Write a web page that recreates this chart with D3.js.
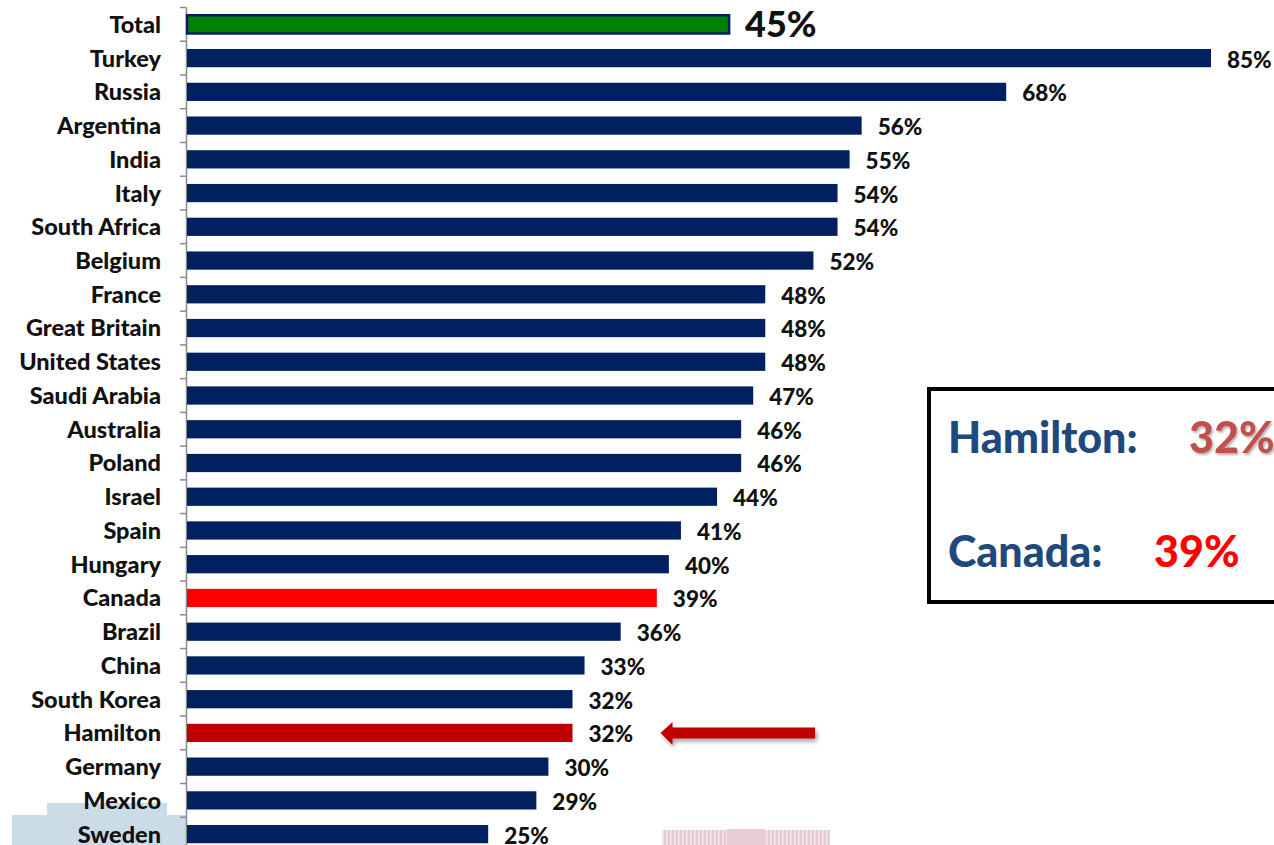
<!DOCTYPE html>
<html>
<head>
<meta charset="utf-8">
<script src="https://cdn.jsdelivr.net/npm/d3@7"></script>
<style>
  html, body { margin: 0; padding: 0; background: #fff; }
  svg { display: block; font-family: Lato, "Open Sans", sans-serif; }
</style>
</head>
<body>
<svg id="chart" width="1274" height="845"></svg>
<script>
// Share of respondents, by country (percent)
const categories = [
  "Total", "Turkey", "Russia", "Argentina", "India", "Italy", "South Africa",
  "Belgium", "France", "Great Britain", "United States", "Saudi Arabia",
  "Australia", "Poland", "Israel", "Spain", "Hungary", "Canada", "Brazil",
  "China", "South Korea", "Hamilton", "Germany", "Mexico", "Sweden"
];
const values = [
  45, 85, 68, 56, 55, 54, 54,
  52, 48, 48, 48, 47,
  46, 46, 44, 41, 40, 39, 36,
  33, 32, 32, 30, 29, 25
];
const valueLabels = values.map(v => v + "%");

// Call-out box entries
const calloutNames = ["Hamilton:", "Canada:"];
const calloutValues = ["32%", "39%"];

const data = categories.map((c, i) => ({ name: c, value: values[i], label: valueLabels[i] }));

const svg = d3.select("#chart");
const W = 1274, H = 845;

const defs = svg.append("defs");
const shadow = defs.append("filter").attr("id", "shadow")
  .attr("x", "-20%").attr("y", "-50%").attr("width", "140%").attr("height", "220%");
shadow.append("feDropShadow").attr("dx", 2).attr("dy", 3).attr("stdDeviation", 2)
  .attr("flood-color", "#000").attr("flood-opacity", 0.35);
const textShadow = defs.append("filter").attr("id", "textShadow")
  .attr("x", "-10%").attr("y", "-10%").attr("width", "130%").attr("height", "140%");
textShadow.append("feDropShadow").attr("dx", 1.5).attr("dy", 2).attr("stdDeviation", 1.2)
  .attr("flood-color", "#000").attr("flood-opacity", 0.3);

// Faint stripes for the pale backdrop strip at the bottom
const stripes = defs.append("pattern").attr("id", "stripes")
  .attr("width", 4).attr("height", 10).attr("patternUnits", "userSpaceOnUse");
stripes.append("rect").attr("width", 4).attr("height", 10).attr("fill", "#f1e1e7");
stripes.append("rect").attr("width", 1.5).attr("height", 10).attr("fill", "#e2c5d0");

// Pale backdrop shapes along the bottom edge
const backdrop = svg.append("g");
backdrop.append("path")
  .attr("d", "M12,815 L47,815 L47,803 L167,803 L167,815 L186,815 L186,845 L12,845 Z")
  .attr("fill", "#ccdce7");
backdrop.append("rect").attr("x", 662).attr("y", 830).attr("width", 168).attr("height", 15)
  .attr("fill", "url(#stripes)");
backdrop.append("rect").attr("x", 727).attr("y", 829).attr("width", 38).attr("height", 16)
  .attr("fill", "#e6cdd7");

// Scales
const x = d3.scaleLinear().domain([0, 85]).range([187, 1211]);
const y = d3.scaleBand().domain(categories).range([7.5, 851])
  .paddingInner(0.46).paddingOuter(0.23);

const step = y.step();

// Category axis: vertical line with ticks at band boundaries
const axis = svg.append("g").attr("class", "axis");
const axisTop = y(categories[0]) - y.paddingOuter() * step;
axis.append("line")
  .attr("x1", 186.5).attr("x2", 186.5)
  .attr("y1", axisTop).attr("y2", H)
  .attr("stroke", "#8c8c8c").attr("stroke-width", 1.5);
axis.selectAll("line.tick")
  .data(d3.range(categories.length))
  .join("line")
  .attr("class", "tick")
  .attr("x1", 180).attr("x2", 186.5)
  .attr("y1", i => axisTop + i * step)
  .attr("y2", i => axisTop + i * step)
  .attr("stroke", "#8c8c8c").attr("stroke-width", 1.5);

axis.selectAll("text.cat")
  .data(data)
  .join("text")
  .attr("class", "cat")
  .attr("x", 161)
  .attr("y", d => y(d.name) + y.bandwidth() / 2)
  .attr("dy", "0.36em")
  .attr("text-anchor", "end")
  .attr("font-size", 23.5)
  .attr("font-weight", 900)
  .attr("fill", "#111")
  .text(d => d.name);

// Bars
const barColor = d => d.name === "Total" ? "#008000"
  : d.name === "Canada" ? "#ff0000"
  : d.name === "Hamilton" ? "#c00000"
  : "#002060";

svg.append("g").selectAll("rect")
  .data(data)
  .join("rect")
  .attr("x", x(0))
  .attr("y", d => y(d.name))
  .attr("width", d => x(d.value) - x(0))
  .attr("height", y.bandwidth())
  .attr("fill", barColor)
  .attr("stroke", d => d.name === "Total" ? "#002060" : "none")
  .attr("stroke-width", d => d.name === "Total" ? 2.5 : 0);

// Value labels
svg.append("g").selectAll("text")
  .data(data)
  .join("text")
  .attr("x", d => x(d.value) + 16)
  .attr("y", d => y(d.name) + y.bandwidth() / 2)
  .attr("dy", d => d.name === "Total" ? "0.34em" : "0.42em")
  .attr("font-size", d => d.name === "Total" ? 36 : 22.5)
  .attr("font-weight", 900)
  .attr("fill", "#111")
  .text(d => d.label);

// Arrow pointing at Hamilton
const hy = y("Hamilton") + y.bandwidth() / 2;
const tipX = x(32) + 88;
svg.append("path")
  .attr("d", `M${tipX},${hy} L${tipX + 12},${hy - 11} L${tipX + 12},${hy - 5.5} L815,${hy - 5.5} L815,${hy + 5.5} L${tipX + 12},${hy + 5.5} L${tipX + 12},${hy + 12} Z`)
  .attr("fill", "#c00000")
  .attr("filter", "url(#shadow)");

// Call-out box
const box = svg.append("g");
box.append("rect")
  .attr("x", 929).attr("y", 389)
  .attr("width", 380).attr("height", 213)
  .attr("fill", "#fff")
  .attr("stroke", "#000").attr("stroke-width", 4);

const nameX = 948;
const rowsY = [453, 567];
const valueX = [1189, 1154];
const valueColor = ["#c0504d", "#ff0000"];
box.selectAll("text.name")
  .data(calloutNames)
  .join("text")
  .attr("class", "name")
  .attr("x", nameX)
  .attr("y", (d, i) => rowsY[i])
  .attr("font-size", 43)
  .attr("font-weight", 900)
  .attr("fill", "#1f497d")
  .text(d => d);
box.selectAll("text.val")
  .data(calloutValues)
  .join("text")
  .attr("class", "val")
  .attr("x", (d, i) => valueX[i])
  .attr("y", (d, i) => rowsY[i])
  .attr("font-size", 43)
  .attr("font-weight", 900)
  .attr("fill", (d, i) => valueColor[i])
  .attr("filter", (d, i) => i === 0 ? "url(#textShadow)" : null)
  .text(d => d);
</script>
</body>
</html>
